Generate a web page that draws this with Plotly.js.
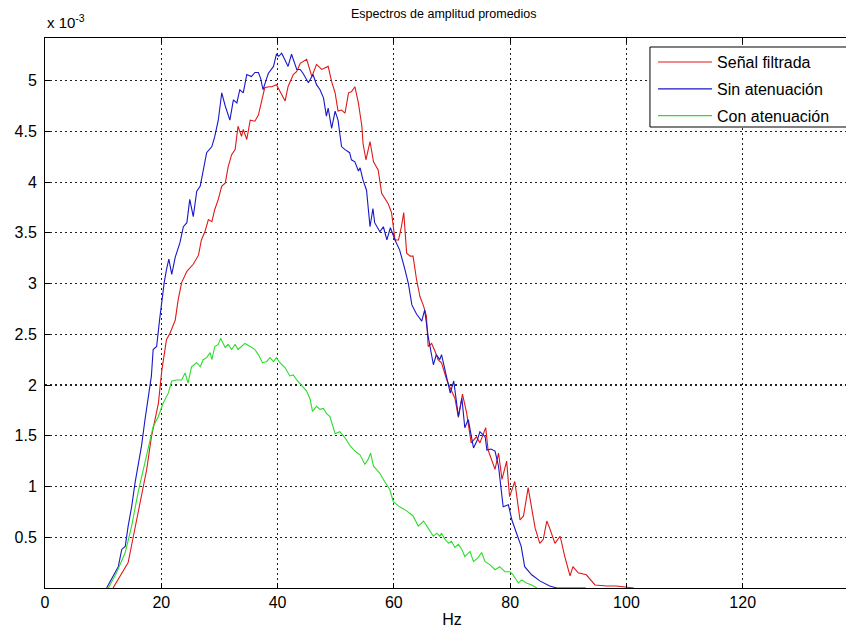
<!DOCTYPE html>
<html>
<head>
<meta charset="utf-8">
<script src="https://cdn.plot.ly/plotly-3.0.1.min.js"></script>
<style>
  html, body { margin: 0; padding: 0; overflow: hidden; background: #fff; }
  #chart { width: 860px; height: 634px; }
</style>
</head>
<body>
<div id="chart"></div>
<script>
// Averaged amplitude spectra, amplitudes in units of 1e-3
const seriesNames = ['Señal filtrada', 'Sin atenuación', 'Con atenuación'];
const seriesColors = ['#e01818', '#1818c8', '#2edc2e'];

const filtradaHz = [11.7,12.9,14.3,15.2,16.3,17.5,18.3,19.5,20.1,20.9,21.5,22.4,22.9,23.5,24.4,25.5,26.4,26.9,27.5,28.1,28.7,29.2,29.8,30.4,31.0,31.5,32.1,32.7,33.2,33.8,34.1,34.7,35.3,36.1,36.7,37.3,37.8,38.5,39.0,39.8,40.4,41.3,41.8,42.7,43.3,43.9,45.0,45.9,46.7,47.6,48.7,49.3,49.9,50.4,51.0,51.6,52.2,52.7,53.3,53.9,54.5,54.7,55.2,55.9,56.5,57.3,57.9,58.5,59.0,59.6,60.2,60.8,61.3,61.7,62.2,62.8,63.3,63.9,64.5,65.1,65.6,65.9,66.5,67.1,67.6,68.2,69.1,69.7,70.5,71.1,71.8,72.5,73.3,74.2,74.8,75.8,76.2,77.4,78.0,78.6,79.4,79.9,80.8,81.7,82.3,83.1,83.7,84.3,85.1,85.7,86.3,86.8,87.7,88.6,89.4,90.3,90.8,91.7,93.1,94.6,96.6,98.3,101.3];
const filtradaAmp = [0,0.12,0.25,0.51,0.84,1.17,1.49,1.82,2.15,2.45,2.51,2.64,2.84,3.01,3.12,3.19,3.28,3.43,3.51,3.63,3.61,3.73,3.83,3.96,3.99,4.15,4.27,4.32,4.55,4.45,4.52,4.42,4.61,4.60,4.66,4.81,4.93,4.94,4.94,4.96,4.89,4.80,4.94,5.06,5.09,5.17,5.21,5.04,5.16,5.11,5.14,4.99,4.88,4.70,4.71,4.68,4.88,4.89,4.94,4.78,4.55,4.38,4.22,4.40,4.20,4.12,3.89,3.83,3.79,3.70,3.43,3.43,3.56,3.70,3.30,3.27,3.27,3.04,2.87,2.78,2.68,2.38,2.41,2.33,2.25,2.22,2.05,1.97,1.87,1.68,1.91,1.73,1.43,1.49,1.43,1.58,1.36,1.17,1.33,1.07,1.25,0.90,1.05,0.67,0.71,0.99,0.77,0.59,0.44,0.48,0.66,0.59,0.44,0.51,0.31,0.12,0.21,0.15,0.13,0.03,0.02,0.02,0];

const sinAtenHz = [10.6,11.7,12.6,13.2,13.8,14.3,14.9,15.5,16.0,16.6,17.2,17.8,18.3,18.6,19.2,19.7,20.1,20.5,20.9,21.3,21.8,22.4,23.2,23.8,24.4,24.9,25.5,26.1,26.7,27.2,27.8,28.7,29.2,29.8,30.4,31.0,31.8,32.4,33.0,33.5,34.1,34.7,35.5,36.1,36.7,37.1,37.5,38.0,38.4,39.3,39.8,40.2,40.7,41.3,41.8,42.4,42.9,43.3,43.9,44.4,45.3,46.1,46.7,47.3,47.9,48.4,48.7,49.3,49.9,50.4,51.0,51.6,52.4,52.7,53.3,53.9,54.2,54.7,55.3,55.9,56.4,56.7,57.6,58.2,58.8,59.4,60.2,61.0,61.9,62.5,63.1,63.9,64.8,65.3,65.9,66.8,67.3,67.9,68.2,68.5,69.1,69.7,70.3,71.1,71.7,72.2,72.8,73.7,74.3,74.8,75.7,76.0,76.7,77.4,78.0,78.4,78.8,79.7,80.3,81.1,81.9,82.5,83.7,85.1,86.8,88.0,93.0];
const sinAtenAmp = [0,0.12,0.21,0.38,0.41,0.61,0.80,1.04,1.20,1.40,1.66,1.89,2.09,2.35,2.38,2.64,2.84,3.01,3.14,3.24,3.09,3.26,3.40,3.56,3.60,3.83,3.66,3.91,3.96,4.10,4.29,4.35,4.45,4.61,4.88,4.75,4.61,4.81,4.78,4.91,4.88,5.06,5.04,5.08,5.08,5.02,4.91,5.00,5.07,5.14,5.26,5.24,5.27,5.20,5.14,5.26,5.18,5.11,5.11,5.07,4.98,5.06,4.96,4.91,4.83,4.65,4.73,4.53,4.70,4.61,4.35,4.32,4.29,4.22,4.20,4.11,4.14,4.02,3.92,3.56,3.74,3.60,3.51,3.56,3.43,3.55,3.43,3.33,3.14,3.00,2.79,2.70,2.63,2.74,2.48,2.20,2.30,2.25,2.30,2.22,2.08,1.92,2.04,1.69,1.87,1.58,1.66,1.38,1.45,1.54,1.49,1.36,1.37,1.35,1.20,1.00,0.80,0.82,0.67,0.54,0.41,0.21,0.13,0.07,0.02,0,0];

const conAtenHz = [10.9,12.3,13.8,14.9,16.0,16.9,17.8,18.6,19.5,20.3,21.2,21.8,22.6,23.5,24.1,24.6,25.2,26.1,26.7,27.2,27.8,28.4,28.7,29.2,29.8,30.2,31.0,31.5,32.1,32.7,33.2,33.8,34.4,35.3,36.1,36.7,37.4,38.1,38.7,39.3,39.8,40.4,41.3,42.1,42.7,43.3,44.1,45.0,45.6,46.0,46.7,47.3,47.9,48.4,49.0,49.9,50.7,51.6,52.5,53.3,54.2,55.0,55.6,56.0,56.5,57.0,57.6,58.5,59.3,59.9,61.0,62.2,63.3,64.2,65.1,65.9,66.8,67.4,67.9,68.2,68.8,69.4,69.9,70.5,71.1,71.7,72.2,73.1,73.7,74.5,75.1,75.7,76.5,77.4,78.2,79.1,80.0,80.5,81.4,82.0,82.8,83.7,84.6];
const conAtenAmp = [0,0.15,0.35,0.61,0.94,1.17,1.40,1.59,1.69,1.82,1.92,2.04,2.05,2.05,2.12,2.02,2.18,2.22,2.18,2.25,2.27,2.32,2.25,2.38,2.40,2.46,2.37,2.40,2.35,2.40,2.35,2.38,2.41,2.38,2.35,2.30,2.22,2.23,2.27,2.23,2.27,2.22,2.17,2.09,2.10,2.05,2.00,1.94,1.86,1.74,1.79,1.76,1.77,1.72,1.69,1.52,1.54,1.48,1.40,1.35,1.31,1.22,1.27,1.33,1.20,1.17,1.13,1.04,0.97,0.85,0.80,0.76,0.71,0.61,0.66,0.59,0.51,0.54,0.51,0.54,0.48,0.44,0.46,0.40,0.43,0.38,0.31,0.36,0.26,0.30,0.35,0.26,0.23,0.18,0.21,0.16,0.16,0.13,0.05,0.08,0.05,0.03,0];

const xTicks = [0, 20, 40, 60, 80, 100, 120];
const yTicks = [0.5, 1, 1.5, 2, 2.5, 3, 3.5, 4, 4.5, 5];
const yTickText = ['0.5', '1', '1.5', '2', '2.5', '3', '3.5', '4', '4.5', '5'];

const xs = [filtradaHz, sinAtenHz, conAtenHz];
const ys = [filtradaAmp, sinAtenAmp, conAtenAmp];

const traces = seriesNames.map((name, i) => ({
  type: 'scatter',
  mode: 'lines',
  name: name,
  legendgroup: 'g' + i,
  x: xs[i],
  y: ys[i],
  line: { color: seriesColors[i], width: 1.1 },
  hoverinfo: 'skip'
}));

const family = 'Liberation Sans, Arial, sans-serif';
const font = { family: family, size: 16, color: '#000' };

const axisCommon = {
  showline: true,
  linecolor: '#000',
  linewidth: 1,
  mirror: 'ticks',
  ticks: 'inside',
  ticklen: 5,
  tickwidth: 1,
  tickcolor: '#000',
  showgrid: true,
  gridcolor: '#222',
  gridwidth: 1.2,
  griddash: '2px,3px',
  zeroline: false,
  tickfont: font
};

// legend frame: runs past the right edge of the page
const legendBox = { x0: 0.7432, x1: 1.05, y0: (588 - 127) / 550, y1: (588 - 47) / 550 };

const layout = {
  width: 860,
  height: 634,
  margin: { l: 45, r: 1, t: 38, b: 46 },
  paper_bgcolor: '#fff',
  plot_bgcolor: '#fff',
  font: font,
  showlegend: true,
  title: {
    text: 'Espectros de amplitud promedios',
    font: { family: family, size: 12.5, color: '#000' },
    xref: 'container', x: 0.516, xanchor: 'center',
    yref: 'container', y: 1 - 14 / 634, yanchor: 'middle'
  },
  xaxis: Object.assign({}, axisCommon, {
    range: [0, 140],
    tickvals: xTicks,
    ticktext: xTicks.map(String),
    title: { text: 'Hz', font: font, standoff: 3 }
  }),
  yaxis: Object.assign({}, axisCommon, {
    range: [0, 5.42],
    tickvals: yTicks,
    ticktext: yTickText,
    ticklabelstandoff: 4
  }),
  shapes: [{
    type: 'rect', xref: 'paper', yref: 'paper',
    x0: legendBox.x0, x1: legendBox.x1, y0: legendBox.y0, y1: legendBox.y1,
    fillcolor: '#fff', line: { color: '#000', width: 1 }, layer: 'above'
  }],
  legend: {
    x: 0.747, y: 0.987,
    xanchor: 'left', yanchor: 'top',
    bgcolor: 'rgba(0,0,0,0)',
    borderwidth: 0,
    font: font,
    itemwidth: 54,
    tracegroupgap: 3
  },
  annotations: [{
    text: 'x 10<sup>-3</sup>',
    xref: 'paper', yref: 'paper',
    x: 0, y: 1, xanchor: 'left', yanchor: 'bottom',
    yshift: 5,
    showarrow: false,
    font: { family: family, size: 15, color: '#000' }
  }]
};

Plotly.newPlot('chart', traces, layout, { displayModeBar: false, staticPlot: true });
</script>
</body>
</html>
